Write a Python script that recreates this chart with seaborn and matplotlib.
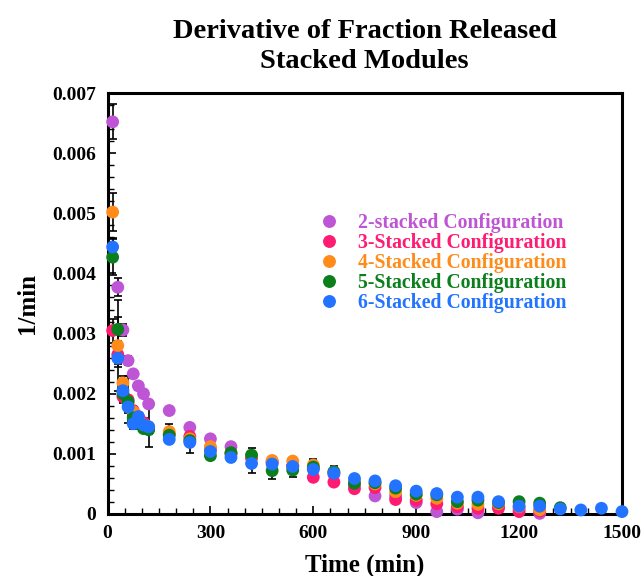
import numpy as np
import pandas as pd
import matplotlib
matplotlib.use("Agg")
import matplotlib.pyplot as plt
import seaborn as sns
from matplotlib.ticker import MultipleLocator, FuncFormatter
from matplotlib.lines import Line2D

# ---------------- data ----------------
times = [15, 30, 45, 60, 75, 90, 105, 120, 180, 240, 300, 360, 420, 480, 540,
         600, 660, 720, 780, 840, 900, 960, 1020, 1080, 1140, 1200, 1260,
         1320, 1380, 1440, 1500]

series_names = ["2-stacked Configuration", "3-Stacked Configuration",
                "4-Stacked Configuration", "5-Stacked Configuration",
                "6-Stacked Configuration"]

# values in units of 1e-3 1/min
vals_2 = [6.52, 3.77, 3.06, 2.55, 2.33, 2.13, 2.00, 1.83, 1.72, 1.44, 1.25, 1.12,
          0.95, 0.87, 0.80, 0.76, 0.66, 0.48, 0.30, 0.30, 0.19, 0.04, 0.08, 0.02,
          0.12, 0.08, 0.01]
vals_3 = [3.05, 2.65, 1.95, 1.90, 1.72, 1.62, 1.52, 1.42, 1.33, 1.29, 1.08, 1.00,
          0.93, 0.86, 0.80, 0.61, 0.53, 0.42, 0.44, 0.24, 0.23, 0.17, 0.12, 0.095,
          0.095, 0.04, 0.05]
vals_4 = [5.02, 2.80, 2.18, 1.85, 1.70, 1.58, 1.48, 1.45, 1.37, 1.25, 1.12, 1.00,
          0.97, 0.89, 0.88, 0.815, 0.70, 0.55, 0.50, 0.37, 0.31, 0.26, 0.18, 0.16,
          0.17, 0.12, 0.07]
vals_5 = [4.27, 3.07, 2.00, 1.87, 1.60, 1.50, 1.42, 1.40, 1.31, 1.22, 0.97, 1.02,
          0.98, 0.72, 0.73, 0.78, 0.70, 0.51, 0.52, 0.43, 0.33, 0.32, 0.205, 0.23,
          0.19, 0.205, 0.18, 0.105]
vals_6 = [4.44, 2.59, 2.05, 1.78, 1.50, 1.62, 1.48, 1.45, 1.24, 1.19, 1.04, 0.94,
          0.84, 0.83, 0.79, 0.74, 0.68, 0.59, 0.55, 0.47, 0.38, 0.34, 0.28, 0.28,
          0.205, 0.13, 0.13, 0.083, 0.067, 0.095, 0.04]

# error bars (same units)
err_2 = [0.29, 0.15, 0.10, 0.08, 0.07, 0.06, 0.06, 0.05, 0.05, 0.05, 0.04, 0.04,
         0.04, 0.04, 0.04, 0.04, 0.04, 0.04, 0.04, 0.03, 0.03, 0.03, 0.03, 0.03,
         0.03, 0.03, 0.02]
err_3 = [0.20, 0.15, 0.10, 0.39, 0.08, 0.07, 0.07, 0.06, 0.06, 0.05, 0.05, 0.05,
         0.05, 0.05, 0.04, 0.04, 0.04, 0.04, 0.04, 0.04, 0.04, 0.03, 0.03, 0.03,
         0.03, 0.03, 0.02]
err_4 = [0.32, 0.76, 0.12, 0.10, 0.08, 0.08, 0.07, 0.07, 0.12, 0.06, 0.05, 0.05,
         0.05, 0.05, 0.05, 0.10, 0.05, 0.04, 0.04, 0.04, 0.04, 0.03, 0.03, 0.03,
         0.03, 0.03, 0.02]
err_5 = [0.30, 0.20, 0.12, 0.10, 0.08, 0.08, 0.07, 0.07, 0.06, 0.06, 0.05, 0.05,
         0.11, 0.14, 0.11, 0.05, 0.05, 0.04, 0.04, 0.04, 0.04, 0.03, 0.03, 0.03,
         0.03, 0.03, 0.02, 0.02]
err_6 = [0.15, 0.15, 0.12, 0.10, 0.08, 0.08, 0.07, 0.33, 0.06, 0.17, 0.05, 0.05,
         0.15, 0.05, 0.05, 0.05, 0.12, 0.04, 0.04, 0.04, 0.04, 0.03, 0.03, 0.03,
         0.03, 0.03, 0.02, 0.02, 0.02, 0.02, 0.02]

colors = ["#BE55D5", "#FF1A72", "#FF8C1A", "#0B7F1B", "#2273FF"]

all_vals = [vals_2, vals_3, vals_4, vals_5, vals_6]
all_errs = [err_2, err_3, err_4, err_5, err_6]

rows = []
for name, v, e in zip(series_names, all_vals, all_errs):
    for t, y, s in zip(times, v, e):
        rows.append({"Time": t, "Rate": y * 1e-3, "Err": s * 1e-3, "Series": name})
df = pd.DataFrame(rows)

# ---------------- figure ----------------
sns.set_theme(style="white")
plt.rcParams["font.family"] = ["Liberation Serif", "DejaVu Serif"]
plt.rcParams["font.weight"] = "bold"
plt.rcParams["text.color"] = "black"
plt.rcParams["axes.labelcolor"] = "black"
plt.rcParams["xtick.color"] = "black"
plt.rcParams["ytick.color"] = "black"

fig = plt.figure(figsize=(6.42, 5.76), dpi=100)
ax = fig.add_axes([107.5 / 642, 1 - 514 / 576, (622 - 107.5) / 642, (514 - 93) / 576])

# error bars first (under markers)
for name in series_names:
    sub = df[df["Series"] == name]
    ax.errorbar(sub["Time"], sub["Rate"], yerr=sub["Err"], fmt="none",
                ecolor="black", elinewidth=1.2, capsize=3.2, capthick=1.2,
                zorder=1)

palette = dict(zip(series_names, colors))
for name in series_names:
    sns.scatterplot(data=df[df["Series"] == name], x="Time", y="Rate",
                    color=palette[name], s=85, edgecolor="none", linewidth=0,
                    ax=ax, zorder=3, legend=False, clip_on=False)

ax.set_xlim(0, 1500)
ax.set_ylim(0, 0.007)
ax.xaxis.set_major_locator(MultipleLocator(300))
ax.xaxis.set_minor_locator(MultipleLocator(50))
ax.yaxis.set_major_locator(MultipleLocator(0.001))
ax.yaxis.set_minor_locator(MultipleLocator(0.0002))
ax.yaxis.set_major_formatter(FuncFormatter(lambda v, p: "0" if abs(v) < 1e-12 else f"{v:.3f}"))
ax.xaxis.set_major_formatter(FuncFormatter(lambda v, p: f"{int(round(v))}"))

ax.tick_params(axis="both", which="major", direction="in", length=6, width=1.2,
               labelsize=14, top=False, right=False, bottom=True, left=True,
               colors="black", pad=8)
ax.tick_params(axis="both", which="minor", direction="in", length=4, width=1.0,
               top=False, right=False, bottom=True, left=True, colors="black")
for lab in ax.get_xticklabels() + ax.get_yticklabels():
    lab.set_fontweight("bold")

for sp in ax.spines.values():
    sp.set_visible(True)
    sp.set_color("black")
    sp.set_linewidth(2.2)

ax.set_xlabel("Time (min)", fontsize=18, fontweight="bold", labelpad=8)
ax.set_ylabel("1/min", fontsize=18, fontweight="bold", labelpad=10)
ax.set_title("Derivative of Fraction Released\nStacked Modules", fontsize=20.5,
             fontweight="bold", pad=18, linespacing=1.28, color="black")

handles = [Line2D([0], [0], marker="o", linestyle="none", markersize=9.3,
                  markerfacecolor=c, markeredgecolor="none") for c in colors]
leg = ax.legend(handles, series_names, loc="upper left",
                bbox_to_anchor=((311 - 107.5) / 514.5, (514 - 213) / 421),
                frameon=False, borderpad=0, borderaxespad=0, handletextpad=0.6,
                handlelength=1.8, labelspacing=0.0,
                prop={"family": "Liberation Serif", "weight": "bold", "size": 14.2})
for txt, c in zip(leg.get_texts(), colors):
    txt.set_color(c)

fig.savefig("out.png", dpi=100)
